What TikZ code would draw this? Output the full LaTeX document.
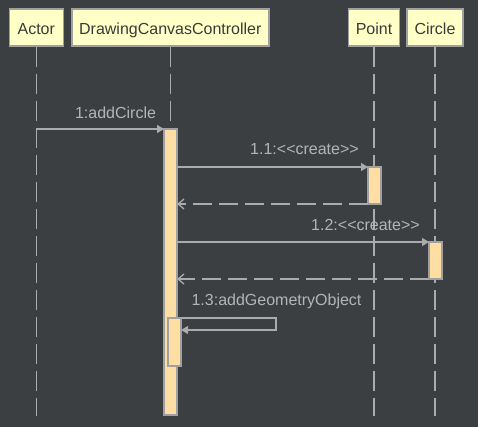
\documentclass[tikz,border=0pt]{standalone}
\usepackage{fontspec}
\setmainfont{Liberation Sans}
\usetikzlibrary{arrows.meta,calc}
\definecolor{canvasbg}{HTML}{3C3F41}
\definecolor{headfill}{HTML}{FFFFC8}
\definecolor{headline}{HTML}{A0A0A0}
\definecolor{actfill}{HTML}{FFDEA4}
\definecolor{wire}{HTML}{ABABAB}
\definecolor{labeltext}{HTML}{B4B4B4}
\definecolor{headtext}{HTML}{3A3A3A}
\newcommand{\stereo}[1]{<\kern0pt<#1>\kern0pt>}
\begin{document}
\begin{tikzpicture}[x=1pt,y=-1pt,
  every node/.style={font=\fontsize{16}{18}\selectfont},
  header/.style={draw=headline, line width=1.5pt, fill=headfill, text=headtext,
    minimum height=37pt, inner sep=0pt, text height=15pt, text depth=0pt},
  lifeline/.style={draw=wire, line width=1.6pt, dash pattern=on 20pt off 7pt},
  activation/.style={draw=headline, line width=1.2pt, fill=actfill,
    minimum width=13pt, inner sep=0pt, outer sep=0pt},
  call/.style={draw=wire, line width=1.3pt, -{Triangle[length=7pt,width=8pt]}},
  reply/.style={draw=wire, line width=1.3pt, dash pattern=on 19pt off 7pt,
    -{Straight Barb[length=6pt,width=10pt]}},
  msglabel/.style={text=labeltext, anchor=base, inner sep=0pt}]

\fill[canvasbg] (0,0) rectangle (478,427);
\useasboundingbox (0,0) rectangle (478,427);

% participants
\node[header, minimum width=54pt]  (actor)  at (36.3,27.5)  {Actor};
\node[header, minimum width=197pt] (ctrl)   at (170.3,27.5) {DrawingCanvasController};
\node[header, minimum width=51pt]  (point)  at (374,27.5)   {Point};
\node[header, minimum width=56pt]  (circle) at (435,27.5)   {Circle};

% lifeline ends
\coordinate (actorEnd)  at (36.3,416);
\coordinate (ctrlEnd)   at (170.3,416);
\coordinate (pointEnd)  at (374,416);
\coordinate (circleEnd) at (435,416);

\draw[lifeline] (actor.south)  -- (actorEnd);
\draw[lifeline] (ctrl.south)   -- (ctrlEnd);
\draw[lifeline] (point.south)  -- (pointEnd);
\draw[lifeline] (circle.south) -- (circleEnd);

% activation bars
\node[activation, minimum height=286pt] (a0) at (170.5,272)   {};
\node[activation, minimum height=37pt]  (p1) at (374.5,185.5) {};
\node[activation, minimum height=37pt]  (c1) at (435.5,260.5) {};
\node[activation, minimum height=48pt]  (a3) at (174.5,342)   {};

% 1: addCircle
\coordinate (actorCall) at (actor.south |- a0.north);
\draw[call] (actorCall) -- (a0.north west);
\node[msglabel] (l1) at (115.5,118.5) {1:addCircle};

% 1.1: create Point
\draw[call] (a0.east |- p1.north) -- (p1.north west);
\draw[reply] (p1.south west) -- (a0.east |- p1.south);
\node[msglabel] (l11) at (304.5,155) {1.1:\stereo{create}};

% 1.2: create Circle
\draw[call] (a0.east |- c1.north) -- (c1.north west);
\draw[reply] (c1.south west) -- (a0.east |- c1.south);
\node[msglabel] (l12) at (365.5,230) {1.2:\stereo{create}};

% 1.3: self call
\draw[call] (a3.north east) -- ++(95,0) -- ++(0,12) -- ($(a3.north east)+(0,12)$);
\node[msglabel] (l13) at (276.5,305) {1.3:addGeometryObject};
\end{tikzpicture}
\end{document}
